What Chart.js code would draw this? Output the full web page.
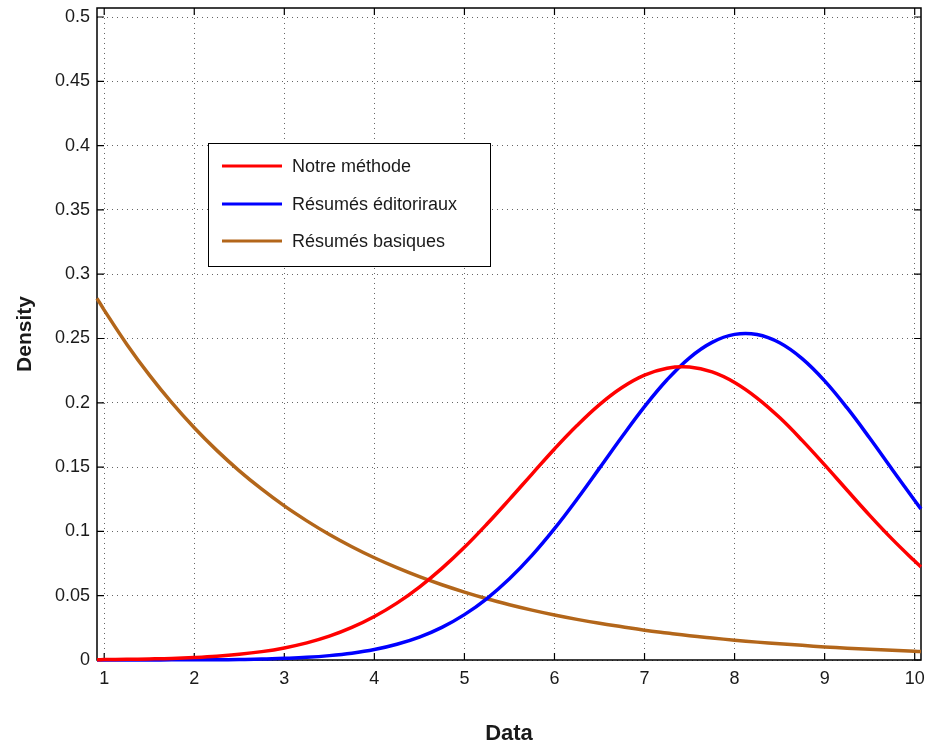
<!DOCTYPE html>
<html>
<head>
<meta charset="utf-8">
<script src="https://cdn.jsdelivr.net/npm/chart.js@4/dist/chart.umd.min.js"></script>
<style>
  html, body { margin: 0; padding: 0; background: #fff; }
  #wrap { width: 925px; height: 747px; }
</style>
</head>
<body>
<div id="wrap"><canvas id="c" width="925" height="747"></canvas></div>
<script>
const xValues = [0.92, 1, 1.25, 1.5, 1.75, 2, 2.25, 2.5, 2.75, 3, 3.25, 3.5, 3.75, 4, 4.25, 4.5, 4.75, 5, 5.25, 5.5, 5.75, 6, 6.25, 6.5, 6.75, 7, 7.25, 7.5, 7.75, 8, 8.25, 8.5, 8.75, 9, 9.25, 9.5, 9.75, 10, 10.07];
const notreMethode = [0.0002, 0.0003, 0.0005, 0.0008, 0.0012, 0.0019, 0.0029, 0.0044, 0.0065, 0.0094, 0.0133, 0.0185, 0.0253, 0.0338, 0.0442, 0.0567, 0.0712, 0.0876, 0.1057, 0.1249, 0.1446, 0.1641, 0.1823, 0.1986, 0.2119, 0.2215, 0.2269, 0.2278, 0.2240, 0.2158, 0.2037, 0.1885, 0.1708, 0.1517, 0.1320, 0.1125, 0.0940, 0.0769, 0.0724];
const resumesEditoriaux = [0.0000, 0.0000, 0.0000, 0.0000, 0.0001, 0.0001, 0.0002, 0.0004, 0.0007, 0.0013, 0.0021, 0.0034, 0.0053, 0.0081, 0.0122, 0.0178, 0.0254, 0.0353, 0.0478, 0.0631, 0.0813, 0.1021, 0.1250, 0.1492, 0.1736, 0.1970, 0.2179, 0.2350, 0.2470, 0.2532, 0.2531, 0.2467, 0.2344, 0.2171, 0.1960, 0.1726, 0.1482, 0.1240, 0.1175];
const resumesBasiques = [0.2812, 0.2721, 0.2456, 0.2217, 0.2001, 0.1806, 0.1630, 0.1471, 0.1328, 0.1198, 0.1082, 0.0976, 0.0881, 0.0795, 0.0718, 0.0648, 0.0585, 0.0528, 0.0476, 0.0430, 0.0388, 0.0350, 0.0316, 0.0285, 0.0258, 0.0232, 0.0210, 0.0189, 0.0171, 0.0154, 0.0139, 0.0126, 0.0114, 0.0102, 0.0092, 0.0083, 0.0075, 0.0068, 0.0066];
const seriesLabels = ['Notre méthode', 'Résumés éditoriraux', 'Résumés basiques'];
const xTickValues = [1, 2, 3, 4, 5, 6, 7, 8, 9, 10];
const xTickLabels = ['1', '2', '3', '4', '5', '6', '7', '8', '9', '10'];
const yTickValues = [0, 0.05, 0.1, 0.15, 0.2, 0.25, 0.3, 0.35, 0.4, 0.45, 0.5];
const yTickLabels = ['0', '0.05', '0.1', '0.15', '0.2', '0.25', '0.3', '0.35', '0.4', '0.45', '0.5'];

const toPoints = arr => xValues.map((x, i) => ({ x: x, y: arr[i] }));
const colors = ['#ff0000', '#0000ff', '#b3661a'];
const seriesData = [notreMethode, resumesEditoriaux, resumesBasiques];

const FONT = "'Liberation Sans', Arial, Helvetica, sans-serif";

const boxPlugin = {
  id: 'boxPlugin',
  beforeDatasetsDraw(chart) {
    const { ctx, chartArea: a, scales } = chart;
    ctx.save();
    ctx.strokeStyle = '#000';
    ctx.lineWidth = 1.5;
    ctx.strokeRect(a.left, a.top, a.right - a.left, a.bottom - a.top);
    const tl = 7;
    ctx.lineWidth = 1.2;
    ctx.beginPath();
    scales.x.ticks.forEach(t => {
      const px = scales.x.getPixelForValue(t.value);
      ctx.moveTo(px, a.bottom); ctx.lineTo(px, a.bottom - tl);
      ctx.moveTo(px, a.top); ctx.lineTo(px, a.top + tl);
    });
    scales.y.ticks.forEach(t => {
      const py = scales.y.getPixelForValue(t.value);
      ctx.moveTo(a.left, py); ctx.lineTo(a.left + tl, py);
      ctx.moveTo(a.right, py); ctx.lineTo(a.right - tl, py);
    });
    ctx.stroke();
    ctx.restore();
  },
  afterDraw(chart) {
    const { ctx } = chart;
    const bx = 208.5, by = 143.5, bw = 282, bh = 123;
    ctx.save();
    ctx.fillStyle = '#fff';
    ctx.fillRect(bx, by, bw, bh);
    ctx.strokeStyle = '#000';
    ctx.lineWidth = 1;
    ctx.strokeRect(bx, by, bw, bh);
    const rows = [166, 204, 241];
    ctx.font = '18px ' + FONT;
    ctx.textBaseline = 'middle';
    ctx.textAlign = 'left';
    chart.data.datasets.forEach((ds, i) => {
      ctx.strokeStyle = ds.borderColor;
      ctx.lineWidth = 3;
      ctx.beginPath();
      ctx.moveTo(222, rows[i]);
      ctx.lineTo(282, rows[i]);
      ctx.stroke();
      ctx.fillStyle = '#1a1a1a';
      ctx.fillText(ds.label, 292, rows[i] + 1);
    });
    ctx.restore();
  }
};

new Chart(document.getElementById('c'), {
  type: 'line',
  data: {
    datasets: seriesData.map((arr, i) => ({
      label: seriesLabels[i],
      data: toPoints(arr),
      borderColor: colors[i],
      backgroundColor: colors[i],
      borderWidth: 3.5,
      pointRadius: 0,
      tension: 0.4,
      fill: false,
      clip: false
    }))
  },
  options: {
    responsive: false,
    animation: false,
    events: [],
    layout: { padding: { top: 8, right: 4, left: 0, bottom: 0 } },
    plugins: { legend: { display: false }, tooltip: { enabled: false } },
    scales: {
      x: {
        type: 'linear',
        min: 0.92,
        max: 10.07,
        afterBuildTicks: s => { s.ticks = xTickValues.map(v => ({ value: v })); },
        afterFit: s => { s.height = 87; s.paddingLeft = 0; s.paddingRight = 0; },
        grid: { color: 'rgba(0,0,0,0.6)', lineWidth: 1, drawTicks: false },
        border: { display: false, dash: [1, 4] },
        ticks: {
          padding: 8,
          color: '#1a1a1a',
          font: { family: FONT, size: 18 },
          maxRotation: 0,
          autoSkip: false,
          callback: (v, i) => xTickLabels[i]
        },
        title: {
          display: true,
          text: 'Data',
          color: '#1a1a1a',
          font: { family: FONT, size: 22, weight: 'bold' },
          padding: { top: 0, bottom: 0 }
        }
      },
      y: {
        type: 'linear',
        min: 0,
        max: 0.507,
        afterBuildTicks: s => { s.ticks = yTickValues.map(v => ({ value: v })); },
        afterFit: s => { s.width = 97; s.paddingTop = 0; s.paddingBottom = 0; },
        grid: { color: 'rgba(0,0,0,0.6)', lineWidth: 1, drawTicks: false },
        border: { display: false, dash: [1, 4] },
        ticks: {
          padding: 7,
          color: '#1a1a1a',
          font: { family: FONT, size: 18 },
          autoSkip: false,
          callback: (v, i) => yTickLabels[i]
        },
        title: {
          display: true,
          text: 'Density',
          color: '#1a1a1a',
          font: { family: FONT, size: 21, weight: 'bold' },
          padding: { top: 13, bottom: 0 }
        }
      }
    }
  },
  plugins: [boxPlugin]
});
</script>
</body>
</html>
